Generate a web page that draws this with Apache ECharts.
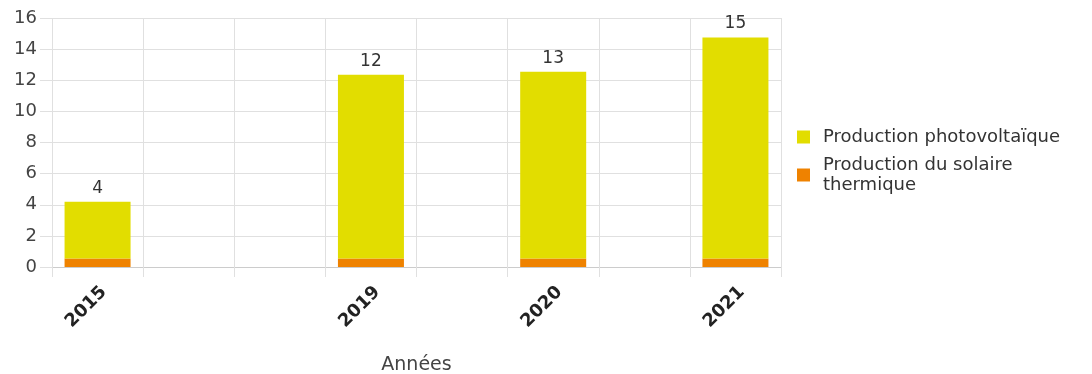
<!DOCTYPE html>
<html>
<head>
<meta charset="utf-8">
<script src="https://cdn.jsdelivr.net/npm/echarts@6/dist/echarts.min.js"></script>
<style>
  html, body { margin: 0; padding: 0; background: #fff; }
  #chart { width: 1092px; height: 374px; }
</style>
</head>
<body>
<div id="chart"></div>
<script>
// Solar production by year (GWh)
const categories = ['2015', '', '', '2019', '', '2020', '', '2021'];
const thermalValues = [0.55, null, null, 0.55, null, 0.55, null, 0.55];
const pvValues = [3.65, null, null, 11.8, null, 12.0, null, 14.2];
const yTicks = [0, 2, 4, 6, 8, 10, 12, 14, 16];

const FONT = 'DejaVu Sans';
const chart = echarts.init(document.getElementById('chart'));

chart.setOption({
  animation: false,
  textStyle: { fontFamily: FONT },
  grid: { left: 52, right: 311, top: 18, bottom: 107, containLabel: false, outerBoundsMode: 'none' },
  legend: {
    orient: 'vertical',
    left: 797,
    top: 126,
    padding: 0,
    itemWidth: 13,
    itemHeight: 13,
    itemGap: 6,
    icon: 'rect',
    data: ['Production photovoltaïque', 'Production du solaire thermique'],
    formatter: function (name) {
      return name === 'Production du solaire thermique'
        ? 'Production du solaire\nthermique' : name;
    },
    textStyle: { fontFamily: FONT, fontSize: 18, color: '#333', lineHeight: 20, padding: [2, 0, 0, 8] }
  },
  xAxis: {
    type: 'category',
    data: categories,
    name: 'Années',
    nameLocation: 'middle',
    nameGap: 89,
    nameTextStyle: { fontFamily: FONT, fontSize: 19, color: '#444' },
    boundaryGap: true,
    axisLine: { lineStyle: { color: '#cccccc' } },
    axisTick: { show: true, length: 10, interval: 0, lineStyle: { color: '#e0e0e0' } },
    axisLabel: {
      interval: 0, rotate: 45, fontWeight: 'bold', fontSize: 18, color: '#222',
      margin: 16, verticalAlign: 'top'
    },
    splitLine: { show: true, interval: 0, lineStyle: { color: '#e0e0e0' } }
  },
  yAxis: {
    type: 'value',
    min: yTicks[0],
    max: yTicks[yTicks.length - 1],
    interval: 2,
    axisLine: { show: false },
    axisTick: { show: true, length: 12, lineStyle: { color: '#e0e0e0' } },
    axisLabel: { fontSize: 18, color: '#444', margin: 15 },
    splitLine: { lineStyle: { color: '#e0e0e0' } }
  },
  series: [
    {
      name: 'Production du solaire thermique',
      type: 'bar',
      stack: 'solaire',
      data: thermalValues,
      barWidth: 66,
      itemStyle: { color: '#ef8200' }
    },
    {
      name: 'Production photovoltaïque',
      type: 'bar',
      stack: 'solaire',
      data: pvValues,
      barWidth: 66,
      itemStyle: { color: '#e2dd00' },
      label: {
        show: true,
        position: 'top',
        distance: 5,
        fontSize: 17,
        color: '#333',
        formatter: function (p) {
          const total = (pvValues[p.dataIndex] || 0) + (thermalValues[p.dataIndex] || 0);
          return String(Math.round(total));
        }
      }
    }
  ]
});
</script>
</body>
</html>
